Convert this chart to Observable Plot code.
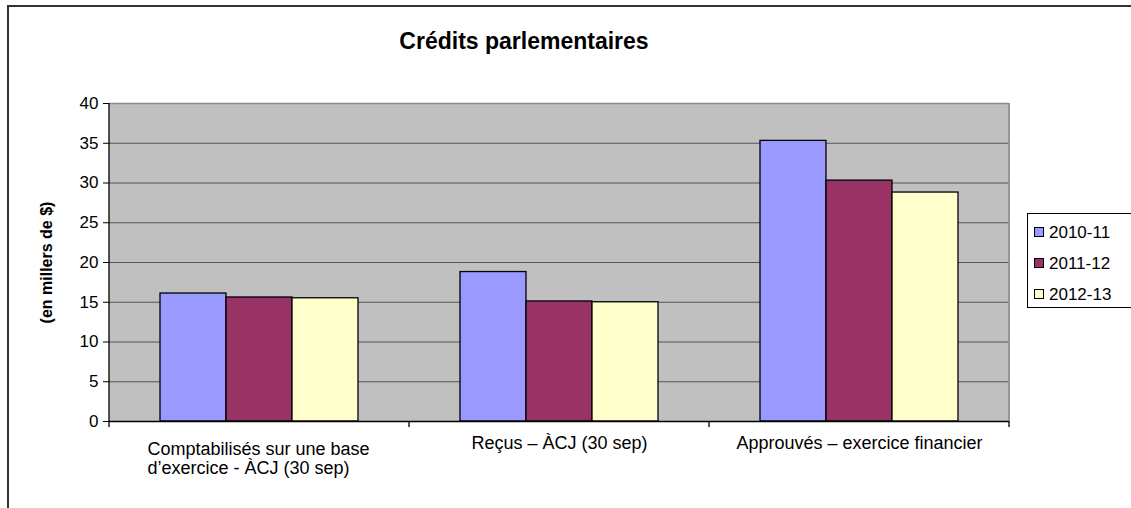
<!DOCTYPE html>
<html>
<head>
<meta charset="utf-8">
<script src="https://cdn.jsdelivr.net/npm/d3@7"></script>
<script src="https://cdn.jsdelivr.net/npm/@observablehq/plot@0.6"></script>
<style>
  html, body { margin: 0; padding: 0; background: #fff; }
  #wrap { position: relative; width: 1131px; height: 508px; overflow: hidden; font-family: "Liberation Sans", Arial, sans-serif; }
  #border { position: absolute; left: 7px; top: 5px; width: 1300px; height: 700px; border-left: 2px solid #333; border-top: 2px solid #333; }
  #title { position: absolute; left: 0; width: 1048px; top: 28px; text-align: center; font-weight: bold; font-size: 23px; color: #000; }
  #legend { position: absolute; left: 1027px; top: 213px; width: 110px; height: 95px; border: 1px solid #000; background: #fff; box-sizing: border-box; }
  .item { position: absolute; left: 6px; font-size: 17px; line-height: 17px; color: #000; }
  .sw { display: inline-block; width: 8px; height: 8px; border: 1px solid #000; margin-right: 5px; vertical-align: 1px; }
  #chart { position: absolute; left: 0; top: 0; }
</style>
</head>
<body>
<div id="wrap">
  <div id="border"></div>
  <div id="chart"></div>
  <div id="title"></div>
  <div id="legend"></div>
</div>
<script>
const titleText = "Crédits parlementaires";
const yLabel = "(en millers de $)";
const categories = [
  "Comptabilisés sur une base\nd’exercice - ÀCJ (30 sep)",
  "Reçus – ÀCJ (30 sep)",
  "Approuvés – exercice financier"
];
const series = ["2010-11", "2011-12", "2012-13"];
const values2010_11 = [16.1, 18.8, 35.3];
const values2011_12 = [15.6, 15.1, 30.3];
const values2012_13 = [15.5, 15.0, 28.8];
const yTicks = [0, 5, 10, 15, 20, 25, 30, 35, 40];
const colors = ["#9999FF", "#993366", "#FFFFCC"];

const seriesValues = [values2010_11, values2011_12, values2012_13];
const rows = [];
categories.forEach((c, i) => {
  series.forEach((s, j) => rows.push({category: c, series: s, value: seriesValues[j][i]}));
});

document.getElementById("title").textContent = titleText;

const chart = Plot.plot({
  width: 1131,
  height: 508,
  marginLeft: 108,
  marginRight: 122,
  marginTop: 103,
  marginBottom: 87,
  style: {fontFamily: "'Liberation Sans', Arial, sans-serif", fontSize: "17px", background: "transparent", color: "#000", overflow: "visible"},
  fx: {domain: categories, padding: 0, axis: null},
  x: {domain: series, paddingInner: 0, paddingOuter: 0.75, axis: null},
  y: {domain: [0, 40], axis: null},
  color: {domain: series, range: colors},
  marks: [
    Plot.frame({fill: "#c0c0c0", stroke: "#c0c0c0", strokeWidth: 1, shapeRendering: "crispEdges"}),
    Plot.ruleY(yTicks.filter(d => d > 0 && d < 40), {stroke: "#555", strokeWidth: 1}),
    Plot.ruleY([40], {stroke: "#888", strokeWidth: 1.5}),
    Plot.barY(rows, {fx: "category", x: "series", y: "value", fill: "series", stroke: "#000", strokeWidth: 1.3}),
    Plot.ruleY([0], {stroke: "#000", strokeWidth: 1.3}),
    Plot.axisY({ticks: yTicks, label: null, tickSize: 6, tickPadding: 5, fontSize: 17, stroke: "#000", tickFormat: d => String(d)}),
    Plot.text([categories[0]], {fx: d => d, text: d => d, frameAnchor: "bottom", lineAnchor: "top", textAnchor: "start", dx: -112, dy: 20, fontSize: 18, fill: "#000", lineHeight: 1.07}),
    Plot.text(categories.slice(1), {fx: d => d, text: d => d, frameAnchor: "bottom", lineAnchor: "top", textAnchor: "middle", dy: 15, fontSize: 18, fill: "#000"}),
    Plot.text([yLabel], {fx: () => categories[0], text: d => d, frameAnchor: "left", textAnchor: "middle", rotate: -90, dx: -63, fontWeight: "bold", fontSize: 16, fill: "#000"})
  ]
});
document.getElementById("chart").appendChild(chart);

// axis lines, border and group boundary ticks from the library's scales
const fx = chart.scale("fx");
const ys = chart.scale("y");
const svg = d3.select(chart);
const left = fx.apply(categories[0]);
const right = fx.apply(categories[categories.length - 1]) + fx.bandwidth;
const y0 = ys.apply(0), y40 = ys.apply(40);
const g = svg.append("g");
g.append("line").attr("x1", right).attr("x2", right).attr("y1", y40).attr("y2", y0).attr("stroke", "#888").attr("stroke-width", 1.5);
g.append("line").attr("x1", left).attr("x2", left).attr("y1", y40).attr("y2", y0 + 6).attr("stroke", "#000").attr("stroke-width", 1.3);
categories.forEach(c => {
  const xe = fx.apply(c) + fx.bandwidth;
  g.append("line").attr("x1", xe).attr("x2", xe).attr("y1", y0).attr("y2", y0 + 6).attr("stroke", "#000").attr("stroke-width", 1.3);
});

// legend
const legend = document.getElementById("legend");
series.forEach((s, i) => {
  const it = document.createElement("div");
  it.className = "item";
  it.style.top = (10 + i * 31) + "px";
  const sw = document.createElement("span");
  sw.className = "sw";
  sw.style.background = colors[i];
  it.appendChild(sw);
  it.appendChild(document.createTextNode(s));
  legend.appendChild(it);
});
</script>
</body>
</html>
